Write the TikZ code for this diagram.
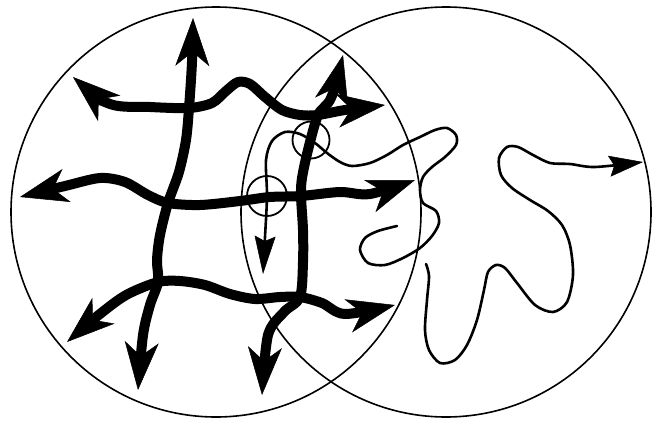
\documentclass[tikz,border=0pt]{standalone}
\usepackage{tikz}
\usetikzlibrary{arrows.meta,positioning}

\tikzset{
  region/.style={line width=1.6pt},
  ring/.style={line width=1.8pt},
  walk/.style={line width=2.6pt, line cap=round, line join=round},
  road/.style={line width=10pt, line cap=round, line join=round,
    arrows={Stealth[length=48pt,width=34pt,inset=14pt,line width=0.5pt]-Stealth[length=48pt,width=34pt,inset=14pt,line width=0.5pt]}},
  smalltip/.style={arrows={Stealth[length=38pt,width=21pt,inset=5pt,line width=0.5pt]-}},
  smalltipend/.style={arrows={-Stealth[length=34pt,width=21pt,inset=5pt,line width=0.5pt]}},
}

\begin{document}
\begin{tikzpicture}[x=1pt,y=-1pt]
    \useasboundingbox (0,0) rectangle (652,420);

    % two regions
    \coordinate (cL) at (216,212);
    \coordinate (cR) at (446,212);
    \draw[region] (cL) circle[radius=205pt];
    \draw[region] (cR) circle[radius=205pt];

    % small rings on the thin path
    \coordinate (rA) at (311,140);
    \coordinate (rB) at (267,196);
    \draw[ring] (rA) circle[radius=18.5pt];
    \draw[ring] (rB) circle[radius=20pt];

    % thin random walk
    \draw[walk,smalltip] plot[smooth] coordinates {(263,274) (265,237) (rB) (266,160) (272,141) (285,132)
        (300,134) (315,143) (327,153) (340,162) (352,166) (370,163) (387,155) (403,145) (420,137)
        (435,130) (447,128) (456,135) (456,145) (445,157) (432,167) (423,177) (420,190) (423,203)
        (436,211) (439,223) (432,236) (420,248) (403,258) (385,265) (368,263) (360,250) (365,238)
        (378,231) (397,226)};
    \draw[walk,smalltipend] plot[smooth] coordinates {(426,264) (429,276) (427,300) (425,330) (429,350)
        (440,363) (455,360) (467,345) (477,320) (484,290) (488,272) (496,265) (505,268) (517,283)
        (535,305) (553,312) (567,302) (573,275) (570,245) (562,225) (548,211) (530,200) (512,188)
        (501,175) (499,158) (507,147) (518,147) (533,155) (550,163) (570,164) (595,167) (643,162)};

    % crossings of the thick network
    \coordinate (j11) at (189,108);
    \coordinate (j12) at (318,115);
    \coordinate (j21) at (168,203);
    \coordinate (j22) at (301,196);
    \coordinate (j31) at (158,282);
    \coordinate (j32) at (300,297);

    % vertical roads
    \draw[road] plot[smooth] coordinates {(193,18) (192,62) (j11) (186,140) (179,172) (j21)
        (160,235) (157,260) (j31) (150,305) (143,335) (138,390)};
    \draw[road] plot[smooth] coordinates {(343,55) (331,98) (j12) (308,150) (302,178) (j22)
        (303,230) (303,262) (j32) (284,312) (268,335) (262,395)};

    % horizontal roads
    \draw[road] plot[smooth] coordinates {(73,77) (110,104) (150,107) (j11) (212,103) (226,91)
        (238,82) (250,84) (265,97) (282,110) (300,115) (j12) (345,110) (385,105)};
    \draw[road] plot[smooth] coordinates {(20,197) (65,186) (100,178) (125,182) (148,195) (j21)
        (200,205) (240,201) (270,197) (j22) (340,192) (370,194) (415,180)};
    \draw[road] plot[smooth] coordinates {(67,342) (105,310) (128,294) (j31) (180,281) (205,285)
        (230,294) (255,299) (280,297) (j32) (322,303) (345,314) (395,305)};
\end{tikzpicture}
\end{document}
